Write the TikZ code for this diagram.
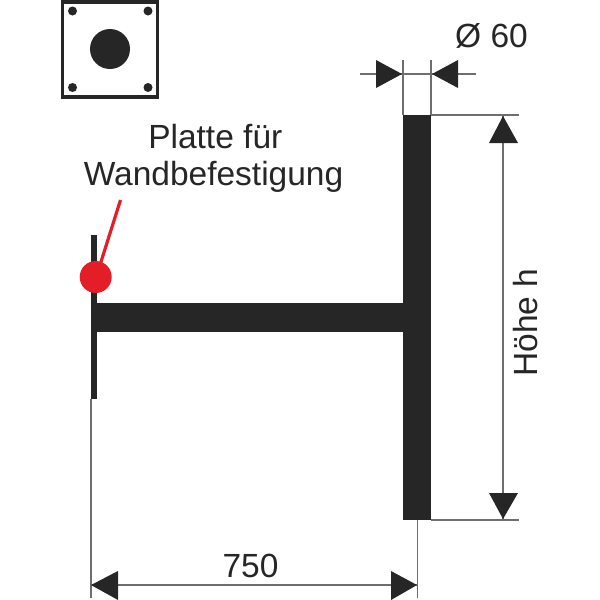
\documentclass[tikz,border=0pt]{standalone}
\usepackage{fontspec}
\setmainfont{Liberation Sans}
\definecolor{ink}{HTML}{262626}
\definecolor{dimgray}{HTML}{6E6E6E}
\definecolor{markred}{HTML}{E31E26}
\tikzset{
  solidpart/.style={fill=ink,draw=none},
  dimline/.style={draw=dimgray,line width=1.6pt},
  headfill/.style={fill=ink,draw=none},
  lab/.style={font=\fontsize{33.5}{33.5}\selectfont,text=ink,inner sep=0pt,anchor=base}
}
\begin{document}
\begin{tikzpicture}[x=1pt,y=-1pt]
\useasboundingbox (0,0) rectangle (600,600);
% plan view of the plate
\draw[ink,line width=3.2pt] (62.7,2) rectangle (157.5,97);
\fill[ink] (110,49) circle[radius=20];
\foreach \px/\py in {72.5/11,148/11,72.5/87.5,148/87.5}
  \fill[ink] (\px,\py) circle[radius=4.5];
% dimension lines
\draw[dimline] (403,60) -- (403,115);
\draw[dimline] (431,60) -- (431,115);
\draw[dimline] (360,74) -- (476,74);
\draw[dimline] (431,115) -- (519,115);
\draw[dimline] (431,520) -- (519,520);
\draw[dimline] (503,115) -- (503,520);
\draw[dimline] (417.5,520) -- (417.5,598);
\draw[dimline] (91,399) -- (91,598);
\draw[dimline] (91,585) -- (417.5,585);
% side view
\path[solidpart] (90.7,235) rectangle (97,399);
\path[solidpart] (97,303) rectangle (403,332);
\path[solidpart] (403,115) rectangle (431,520);
% marker
\draw[markred,line width=3.2pt] (120.5,200) -- (100,265);
\fill[markred] (95.7,277) circle[radius=16];
% arrowheads
\path[headfill] (402,74) -- (376,60) -- (376,88) -- cycle;
\path[headfill] (432,74) -- (458,60) -- (458,88) -- cycle;
\path[headfill] (503,116) -- (489,143) -- (518,143) -- cycle;
\path[headfill] (503,519) -- (489,493) -- (518,493) -- cycle;
\path[headfill] (91,585) -- (118,571) -- (118,600) -- cycle;
\path[headfill] (417,585) -- (391,571) -- (391,600) -- cycle;
% labels
\node[lab] (platte) at (215.3,148) {Platte für};
\node[lab] (wand) at (213.5,185) {Wandbefestigung};
\node[lab] (dia) at (491.5,47) {Ø 60};
\node[lab,rotate=90] (hoehe) at (537.5,322.5) {Höhe h};
\node[lab] (len) at (250.5,577) {750};
\end{tikzpicture}
\end{document}
